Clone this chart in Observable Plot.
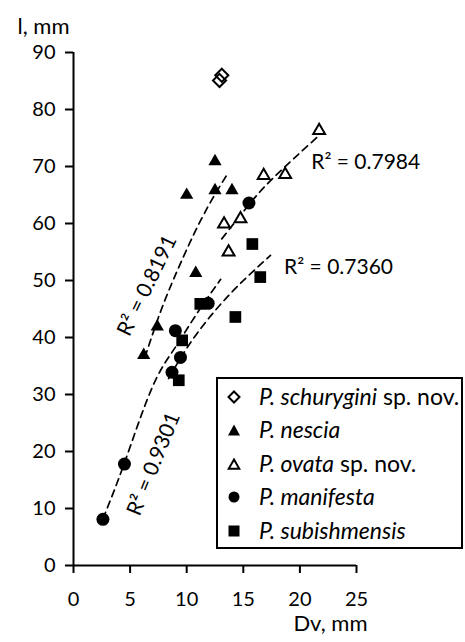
<!DOCTYPE html>
<html>
<head>
<meta charset="utf-8">
<script src="https://cdn.jsdelivr.net/npm/d3@7"></script>
<script src="https://cdn.jsdelivr.net/npm/@observablehq/plot@0.6"></script>
<style>
  html, body { margin: 0; padding: 0; background: #fff; }
  #wrap { position: relative; width: 465px; height: 642px; font-family: Lato, "Open Sans", sans-serif; }
  #legend { position: absolute; left: 216px; top: 377px; width: 247px; height: 172px; border: 2px solid #000; box-sizing: border-box; background: #fff; }
  .row { position: absolute; left: 0; height: 33.5px; line-height: 33.5px; font-size: 23px; white-space: nowrap; color: #000; }
  .row svg { position: absolute; left: 9px; top: 9.75px; }
  .row span.t { position: absolute; left: 41px; top: 0; }
</style>
</head>
<body>
<div id="wrap"></div>
<script>
// ---- data ----
const xTicks = [0, 5, 10, 15, 20, 25];
const yTicks = [0, 10, 20, 30, 40, 50, 60, 70, 80, 90];

const schuryginiX = [13.1, 12.9];
const schuryginiY = [86.0, 85.1];

const nesciaX = [12.5, 10.0, 12.5, 14.0, 10.8, 7.4, 6.2];
const nesciaY = [70.9, 65.0, 65.8, 65.8, 51.3, 41.9, 36.9];

const ovataX = [16.8, 18.7, 21.7, 14.75, 13.3, 13.7];
const ovataY = [68.4, 68.6, 76.3, 60.8, 59.9, 55.0];

const manifestaX = [15.5, 11.9, 9.0, 9.45, 8.7, 4.5, 2.6];
const manifestaY = [63.6, 46.0, 41.2, 36.5, 33.9, 17.8, 8.1];

const subishX = [16.5, 15.8, 11.2, 14.3, 9.6, 9.3];
const subishY = [50.6, 56.4, 45.9, 43.6, 39.5, 32.5];

// trend curves: points
const trendNescia = [[6.3, 36.5], [7.5, 43.5], [8.9, 50.5], [11.3, 60.8], [13.7, 69.0]];
const trendOvata = [[13.1, 57.3], [15.5, 63.3], [17.7, 68.1], [21.5, 75.1]];
const trendManifesta = [[2.6, 8.2], [4.5, 18.0], [6.9, 31.0], [8.9, 38.0], [10.9, 44.2], [13.0, 50.2]];
const trendSubish = [[8.4, 32.8], [10.0, 38.1], [12.0, 43.5], [14.5, 49.0], [17.4, 54.4]];

const r2Labels = ["R² = 0.8191", "R² = 0.9301", "R² = 0.7984", "R² = 0.7360"];
const r2X = [6.5, 7.08, 21.0, 18.6];
const r2Y = [49.1, 17.8, 70.7, 52.4];

const legendNames = [
  ["P. schurygini", "sp. nov."],
  ["P. nescia", ""],
  ["P. ovata", "sp. nov."],
  ["P. manifesta", ""],
  ["P. subishmensis", ""]
];

const pts = (xs, ys) => xs.map((x, i) => ({x, y: ys[i]}));
const tr = (a) => a.map(([x, y]) => ({x, y}));

const dash = {x: "x", y: "y", stroke: "black", strokeWidth: 1.7, strokeDasharray: "7,5", curve: "natural"};

const chart = Plot.plot({
  width: 465,
  height: 642,
  marginLeft: 73,
  marginRight: 109,
  marginTop: 52,
  marginBottom: 77,
  style: {fontFamily: "Lato, 'Open Sans', sans-serif", fontSize: "20px", color: "black", background: "white"},
  x: {domain: [0, 25]},
  y: {domain: [0, 90]},
  marks: [
    Plot.axisX({ticks: xTicks, tickSize: 8, tickPadding: 18, strokeWidth: 2, label: null, tickFormat: d => String(d)}),
    Plot.axisY({ticks: yTicks, tickSize: 8, tickPadding: 10, strokeWidth: 2, label: null, tickFormat: d => String(d)}),
    Plot.ruleX([0], {y1: 0, y2: 90, stroke: "black", strokeWidth: 2}),
    Plot.ruleY([0], {x1: 0, x2: 25, stroke: "black", strokeWidth: 2}),
    Plot.line(tr(trendNescia), dash),
    Plot.line(tr(trendOvata), dash),
    Plot.line(tr(trendManifesta), dash),
    Plot.line(tr(trendSubish), dash),
    Plot.dot(pts(schuryginiX, schuryginiY), {x: "x", y: "y", symbol: "diamond2", r: 5.9, fill: "none", stroke: "black", strokeWidth: 2}),
    Plot.dot(pts(nesciaX, nesciaY), {x: "x", y: "y", symbol: "triangle", r: 4.9, fill: "black", stroke: "none"}),
    Plot.dot(pts(ovataX, ovataY), {x: "x", y: "y", symbol: "triangle", r: 4.4, fill: "white", stroke: "black", strokeWidth: 2}),
    Plot.dot(pts(manifestaX, manifestaY), {x: "x", y: "y", symbol: "circle", r: 6.5, fill: "black", stroke: "none"}),
    Plot.dot(pts(subishX, subishY), {x: "x", y: "y", symbol: "square", r: 6.6, fill: "black", stroke: "none"}),
    Plot.text([0], {x: () => r2X[0], y: () => r2Y[0], text: () => r2Labels[0], rotate: -64, fontSize: 21}),
    Plot.text([0], {x: () => r2X[1], y: () => r2Y[1], text: () => r2Labels[1], rotate: -68, fontSize: 21}),
    Plot.text([0], {x: () => r2X[2], y: () => r2Y[2], text: () => r2Labels[2], textAnchor: "start", fontSize: 21}),
    Plot.text([0], {x: () => r2X[3], y: () => r2Y[3], text: () => r2Labels[3], textAnchor: "start", fontSize: 21}),
    Plot.text(["l, mm"], {frameAnchor: "top-left", dx: -56, dy: -34, textAnchor: "start", fontSize: 22}),
    Plot.text(["Dv, mm"], {frameAnchor: "bottom-right", dx: 11, dy: 65, textAnchor: "end", fontSize: 22})
  ]
});

const wrap = document.getElementById("wrap");
wrap.appendChild(chart);

// legend box
const legend = document.createElement("div");
legend.id = "legend";
const symbols = [
  '<polygon points="7,1.5 12.5,7 7,12.5 1.5,7" fill="white" stroke="black" stroke-width="2"/>',
  '<polygon points="7,1.5 13,12.5 1,12.5" fill="black"/>',
  '<polygon points="7,2.5 12.3,11.8 1.7,11.8" fill="white" stroke="black" stroke-width="2"/>',
  '<circle cx="7" cy="7" r="5.5" fill="black"/>',
  '<rect x="1.5" y="1.5" width="11" height="11" fill="black"/>'
];
legendNames.forEach(([it, rest], i) => {
  const row = document.createElement("div");
  row.className = "row";
  row.style.top = (17.5 - 16.75 + i * 33.5) + "px";
  const tail = rest ? ` <span>${rest}</span>` : "";
  row.innerHTML = `<svg width="14" height="14" viewBox="0 0 14 14">${symbols[i]}</svg><span class="t"><i>${it}</i>${tail}</span>`;
  legend.appendChild(row);
});
wrap.appendChild(legend);
</script>
</body>
</html>
